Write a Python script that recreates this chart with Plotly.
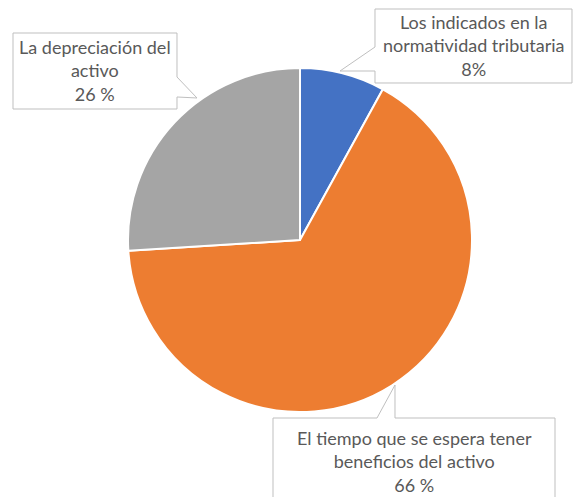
import plotly.graph_objects as go

labels = ["Los indicados en la normatividad tributaria",
          "El tiempo que se espera tener beneficios del activo",
          "La depreciación del activo"]
values = [8, 66, 26]
colors = ["#4472C4", "#ED7D31", "#A5A5A5"]
label_texts = ["Los indicados en la<br>normatividad tributaria<br>8%",
               "El tiempo que se espera tener<br>beneficios del activo<br>66 %",
               "La depreciación del<br>activo<br>26 %"]

W, H = 573, 497

def px(x, y):
    return x / W, 1 - y / H

def path(points):
    parts = []
    for i, (x, y) in enumerate(points):
        X, Y = px(x, y)
        parts.append(("M" if i == 0 else "L") + f"{X:.5f},{Y:.5f}")
    return " ".join(parts) + " Z"

fig = go.Figure(go.Pie(
    labels=labels, values=values, sort=False, direction="clockwise", rotation=0,
    marker=dict(colors=colors, line=dict(color="white", width=2)),
    textinfo="none", hoverinfo="label+percent",
    domain=dict(x=[(300 - 172) / W, (300 + 172) / W], y=[1 - 412 / H, 1 - 68 / H]),
    showlegend=False,
))

boxes = [
    [(375, 9), (572, 9), (572, 83), (375, 83), (375, 71), (340, 71), (375, 47)],
    [(273, 418), (377, 418), (395, 385), (395, 418), (555, 418), (555, 499), (273, 499)],
    [(13, 33), (177, 33), (177, 77), (197, 98), (177, 97), (177, 109), (13, 109)],
]
centers = [(474, 46), (414, 461), (95, 71)]

shapes = []
for b in boxes:
    shapes.append(dict(type="path", xref="paper", yref="paper", path=path(b),
                       fillcolor="white", line=dict(color="#BFBFBF", width=1), layer="above"))

annotations = []
for t, (cx, cy) in zip(label_texts, centers):
    X, Y = px(cx, cy)
    annotations.append(dict(x=X, y=Y, xref="paper", yref="paper", text=t, showarrow=False,
                            xanchor="center", yanchor="middle", align="center",
                            font=dict(family="Lato, Calibri, sans-serif", size=18, color="#595959")))

fig.update_layout(width=W, height=H, margin=dict(l=0, r=0, t=0, b=0),
                  paper_bgcolor="white", plot_bgcolor="white",
                  shapes=shapes, annotations=annotations)

fig.write_html("out.html", config={"displayModeBar": False},
               post_script="document.body.style.margin='0';document.body.style.overflow='hidden';")
